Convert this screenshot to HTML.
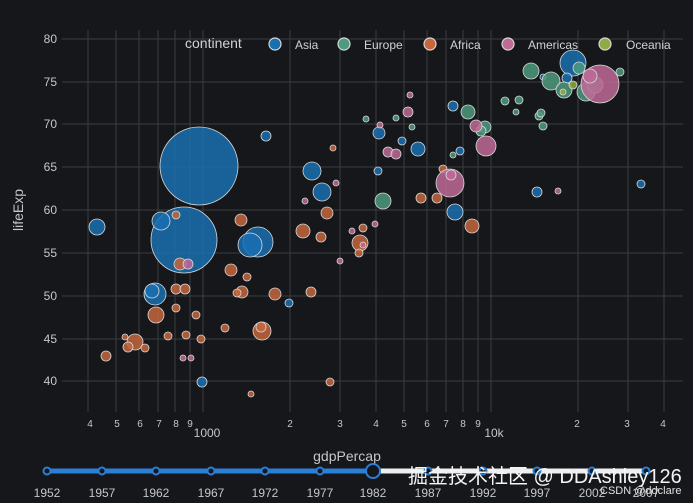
<!DOCTYPE html>
<html><head><meta charset="utf-8"><style>
html,body{margin:0;padding:0;background:#15171a;}
svg{display:block;font-family:"Liberation Sans","Noto Sans CJK SC",sans-serif;}
</style></head><body>
<svg width="693" height="503" viewBox="0 0 693 503" xmlns="http://www.w3.org/2000/svg">
<rect width="693" height="503" fill="#15171a"/>
<g stroke="#3a3d41" stroke-width="1">
<line x1="62" x2="683" y1="39" y2="39"/><line x1="62" x2="683" y1="82" y2="82"/><line x1="62" x2="683" y1="124" y2="124"/><line x1="62" x2="683" y1="167" y2="167"/><line x1="62" x2="683" y1="210" y2="210"/><line x1="62" x2="683" y1="253" y2="253"/><line x1="62" x2="683" y1="296" y2="296"/><line x1="62" x2="683" y1="339" y2="339"/><line x1="62" x2="683" y1="381" y2="381"/>
<line x1="88" x2="88" y1="30" y2="412"/><line x1="116" x2="116" y1="30" y2="412"/><line x1="139" x2="139" y1="30" y2="412"/><line x1="158" x2="158" y1="30" y2="412"/><line x1="175" x2="175" y1="30" y2="412"/><line x1="190" x2="190" y1="30" y2="412"/><line x1="203" x2="203" y1="30" y2="412"/><line x1="290" x2="290" y1="30" y2="412"/><line x1="340" x2="340" y1="30" y2="412"/><line x1="376" x2="376" y1="30" y2="412"/><line x1="404" x2="404" y1="30" y2="412"/><line x1="427" x2="427" y1="30" y2="412"/><line x1="446" x2="446" y1="30" y2="412"/><line x1="463" x2="463" y1="30" y2="412"/><line x1="478" x2="478" y1="30" y2="412"/><line x1="491" x2="491" y1="30" y2="412"/><line x1="578" x2="578" y1="30" y2="412"/><line x1="628" x2="628" y1="30" y2="412"/><line x1="664" x2="664" y1="30" y2="412"/>
</g>
<g fill="#c4c7cb" font-size="12" text-anchor="end">
<text x="57" y="43">80</text><text x="57" y="86">75</text><text x="57" y="128">70</text><text x="57" y="171">65</text><text x="57" y="214">60</text><text x="57" y="257">55</text><text x="57" y="300">50</text><text x="57" y="343">45</text><text x="57" y="385">40</text>
</g>
<text transform="translate(23,210) rotate(-90)" fill="#c4c7cb" font-size="14" text-anchor="middle">lifeExp</text>
<g fill="#c4c7cb" font-size="10" text-anchor="middle">
<text x="90" y="427">4</text><text x="117" y="427">5</text><text x="140" y="427">6</text><text x="159" y="427">7</text><text x="176" y="427">8</text><text x="190" y="427">9</text><text x="290" y="427">2</text><text x="340" y="427">3</text><text x="376" y="427">4</text><text x="404" y="427">5</text><text x="427" y="427">6</text><text x="446" y="427">7</text><text x="463" y="427">8</text><text x="478" y="427">9</text><text x="577" y="427">2</text><text x="627" y="427">3</text><text x="663" y="427">4</text>
</g>
<g fill="#c4c7cb" font-size="12" text-anchor="middle"><text x="207" y="437">1000</text><text x="494" y="437">10k</text></g>
<text x="347" y="461" fill="#c4c7cb" font-size="14" text-anchor="middle">gdpPercap</text>
<g stroke="#d8d8d8" stroke-width="0.8" fill-opacity="0.85">
<g fill="#1a6fb0">
<circle cx="199" cy="166" r="39"/><circle cx="184" cy="240" r="33"/><circle cx="97" cy="227" r="8"/><circle cx="161" cy="221" r="9"/><circle cx="258" cy="242" r="15"/><circle cx="250" cy="245" r="12"/><circle cx="155" cy="294" r="11"/><circle cx="152" cy="291" r="7"/><circle cx="266" cy="136" r="5"/><circle cx="312" cy="171" r="9"/><circle cx="322" cy="192" r="9"/><circle cx="202" cy="382" r="5"/><circle cx="289" cy="303" r="4"/><circle cx="379" cy="133" r="6"/><circle cx="378" cy="171" r="4"/><circle cx="402" cy="141" r="4"/><circle cx="418" cy="149" r="7"/><circle cx="455" cy="212" r="8"/><circle cx="453" cy="106" r="5"/><circle cx="460" cy="151" r="4"/><circle cx="641" cy="184" r="4"/><circle cx="537" cy="192" r="5"/><circle cx="573" cy="63" r="13"/><circle cx="567" cy="78" r="5"/><circle cx="543" cy="77" r="3"/>
</g>
<g fill="#4e9a7e">
<circle cx="383" cy="201" r="8"/><circle cx="531" cy="71" r="8"/><circle cx="551" cy="81" r="9"/><circle cx="564" cy="90" r="8"/><circle cx="586" cy="92" r="9"/><circle cx="595" cy="85" r="8"/><circle cx="468" cy="112" r="7"/><circle cx="485" cy="127" r="6"/><circle cx="481" cy="131" r="5"/><circle cx="505" cy="101" r="4"/><circle cx="519" cy="100" r="4"/><circle cx="516" cy="112" r="3"/><circle cx="539" cy="116" r="4"/><circle cx="543" cy="126" r="4"/><circle cx="541" cy="113" r="4"/><circle cx="620" cy="72" r="4"/><circle cx="366" cy="119" r="3"/><circle cx="396" cy="118" r="3"/><circle cx="412" cy="127" r="3"/><circle cx="453" cy="155" r="3"/><circle cx="579" cy="68" r="6"/>
</g>
<g fill="#c5663d">
<circle cx="106" cy="356" r="5"/><circle cx="135" cy="342" r="8"/><circle cx="128" cy="347" r="5"/><circle cx="145" cy="348" r="4"/><circle cx="125" cy="337" r="3"/><circle cx="176" cy="215" r="4"/><circle cx="241" cy="220" r="6"/><circle cx="242" cy="292" r="6"/><circle cx="180" cy="264" r="6"/><circle cx="176" cy="289" r="5"/><circle cx="176" cy="308" r="4"/><circle cx="156" cy="315" r="8"/><circle cx="168" cy="336" r="4"/><circle cx="186" cy="335" r="4"/><circle cx="201" cy="339" r="4"/><circle cx="225" cy="328" r="4"/><circle cx="262" cy="331" r="9"/><circle cx="311" cy="292" r="5"/><circle cx="275" cy="294" r="6"/><circle cx="261" cy="327" r="5"/><circle cx="303" cy="231" r="7"/><circle cx="321" cy="237" r="5"/><circle cx="327" cy="213" r="6"/><circle cx="360" cy="243" r="8"/><circle cx="363" cy="228" r="4"/><circle cx="359" cy="253" r="4"/><circle cx="472" cy="226" r="7"/><circle cx="421" cy="198" r="5"/><circle cx="443" cy="169" r="4"/><circle cx="437" cy="198" r="5"/><circle cx="185" cy="289" r="5"/><circle cx="231" cy="270" r="6"/><circle cx="237" cy="293" r="4"/><circle cx="247" cy="277" r="4"/><circle cx="330" cy="382" r="4"/><circle cx="251" cy="394" r="3"/><circle cx="196" cy="315" r="4"/><circle cx="333" cy="148" r="3"/>
</g>
<g fill="#c06a98">
<circle cx="188" cy="264" r="5"/><circle cx="450" cy="183" r="14"/><circle cx="486" cy="146" r="10"/><circle cx="476" cy="126" r="6"/><circle cx="451" cy="175" r="5"/><circle cx="408" cy="112" r="5"/><circle cx="600" cy="84" r="19"/><circle cx="590" cy="76" r="7"/><circle cx="388" cy="152" r="5"/><circle cx="396" cy="154" r="5"/><circle cx="352" cy="231" r="3"/><circle cx="363" cy="245" r="3"/><circle cx="340" cy="261" r="3"/><circle cx="375" cy="224" r="3"/><circle cx="336" cy="183" r="3"/><circle cx="305" cy="201" r="3"/><circle cx="558" cy="191" r="3"/><circle cx="380" cy="125" r="3"/><circle cx="410" cy="95" r="3"/><circle cx="183" cy="358" r="3"/><circle cx="191" cy="358" r="3"/>
</g>
<g fill="#8fab43"><circle cx="573" cy="85" r="4"/><circle cx="563" cy="92" r="3"/></g>
</g>
<text x="185" y="48" fill="#d0d3d7" font-size="14">continent</text>
<g stroke="#d8d8d8" stroke-width="1.2">
<circle cx="275" cy="44" r="6" fill="#1a6fb0"/><circle cx="344" cy="44" r="6" fill="#4e9a7e"/><circle cx="430" cy="44" r="6" fill="#c5663d"/><circle cx="508" cy="44" r="6" fill="#c06a98"/><circle cx="605" cy="44" r="6" fill="#8fab43"/>
</g>
<g fill="#d0d3d7" font-size="12">
<text x="295" y="49">Asia</text><text x="364" y="49">Europe</text><text x="450" y="49">Africa</text><text x="528" y="49">Americas</text><text x="626" y="49">Oceania</text>
</g>
<line x1="47" x2="373" y1="471" y2="471" stroke="#2a7fd6" stroke-width="5"/>
<line x1="373" x2="650" y1="471" y2="471" stroke="#eeeeee" stroke-width="5"/>
<g fill="#15171a" stroke="#2a7fd6" stroke-width="2">
<circle cx="47" cy="471" r="3.5"/><circle cx="102" cy="471" r="3.5"/><circle cx="156" cy="471" r="3.5"/><circle cx="211" cy="471" r="3.5"/><circle cx="265" cy="471" r="3.5"/><circle cx="320" cy="471" r="3.5"/><circle cx="428" cy="471" r="3.5"/><circle cx="483" cy="471" r="3.5"/><circle cx="537" cy="471" r="3.5"/><circle cx="592" cy="471" r="3.5"/><circle cx="646" cy="471" r="3.5"/>
<circle cx="373" cy="471" r="7"/>
</g>
<g fill="#c4c7cb" font-size="12" text-anchor="middle">
<text x="47" y="497">1952</text><text x="102" y="497">1957</text><text x="156" y="497">1962</text><text x="211" y="497">1967</text><text x="265" y="497">1972</text><text x="320" y="497">1977</text><text x="373" y="497">1982</text><text x="428" y="497">1987</text><text x="483" y="497">1992</text><text x="537" y="497">1997</text><text x="592" y="497">2002</text><text x="646" y="497">2007</text>
</g>
<text x="408" y="483" fill="#f4f4f4" font-size="20">掘金技术社区 @ DDAshley126</text>
<text x="600" y="494" fill="#e0e0e0" font-size="11">CSDN @ddclare</text>
</svg>
</body></html>
